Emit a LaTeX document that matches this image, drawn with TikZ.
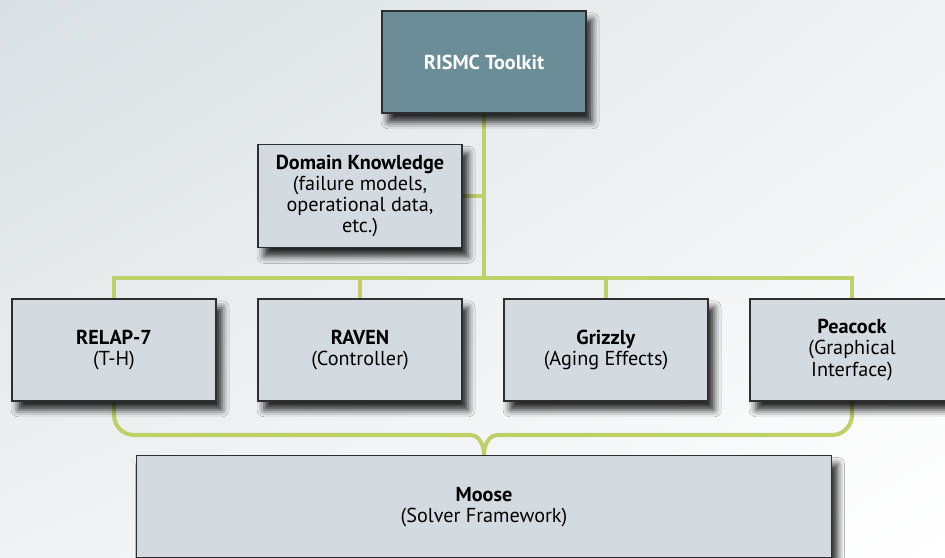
\documentclass[tikz,border=0pt]{standalone}
\usepackage{fontspec}
\setmainfont{PT Sans}
\usepackage{xcolor}
\usepackage{tikz}
\usetikzlibrary{calc,shadings,shadows.blur}
\definecolor{bgA}{HTML}{D9E0E3}
\definecolor{bgB}{HTML}{F0F2F3}
\definecolor{boxfill}{HTML}{D3DBE1}
\definecolor{topfill}{HTML}{6B8D97}
\definecolor{edge}{HTML}{2E2E2E}
\definecolor{lime}{HTML}{BFD068}
\pgfdeclarelayer{backdrop}
\pgfdeclarelayer{lines}
\pgfsetlayers{backdrop,lines,main}
\tikzset{
  box/.style={draw=edge, fill=boxfill, line width=0.8pt, align=center,
    minimum width=204*0.02cm, minimum height=102*0.02cm, inner sep=2pt,
    font=\fontsize{11.5}{12}\selectfont,
    blur shadow={shadow xshift=3.5pt, shadow yshift=-5pt, shadow blur radius=4pt, shadow opacity=85}},
  topbox/.style={box, fill=topfill, text=white, font=\fontsize{11.5}{12}\selectfont\bfseries},
  link/.style={draw=lime, line width=2.3pt},
  brace/.style={link, rounded corners=0.4cm},
}

\begin{document}
\begin{tikzpicture}[x=0.02cm, y=-0.02cm]
  \useasboundingbox (0,0) rectangle (945,557);

  % nodes
  \node[topbox] (toolkit) at (484,62) {RISMC Toolkit};
  \node[box, minimum height=103*0.02cm] (domain) at (360,196)
    {\textbf{Domain Knowledge}\\(failure models,\\operational data,\\etc.)};
  \node[box] (relap) at (114,350) {\textbf{RELAP-7}\\(T-H)};
  \node[box] (raven) at (360,350) {\textbf{RAVEN}\\(Controller)};
  \node[box] (grizzly) at (606,350) {\textbf{Grizzly}\\(Aging Effects)};
  \node[box] (peacock) at (852,350) {\textbf{Peacock}\\(Graphical\\Interface)};
  \coordinate (cusp) at (484,455);
  \node[box, minimum width=695*0.02cm, anchor=north]
    (moose) at (cusp) {\textbf{Moose}\\(Solver Framework)};

  % background
  \begin{pgfonlayer}{backdrop}
    \shade[upper left=bgA, upper right=bgB, lower left=bgB, lower right=white]
      (0,0) rectangle (945,557);
  \end{pgfonlayer}

  % tree lines
  \begin{pgfonlayer}{lines}
    \coordinate (bus) at (484,278);
    \draw[link] (toolkit.south) -- (bus);
    \draw[link] (domain.east) -- (domain.east -| bus);
    \draw[link] (relap.north) |- (bus) -| (peacock.north);
    \draw[link] (raven.north) -- (raven.north |- bus);
    \draw[link] (grizzly.north) -- (grizzly.north |- bus);
    % lower brace
    \coordinate (braceL) at (470,435);
    \coordinate (braceR) at (498,435);
    \draw[brace] (relap.south) |- (braceL);
    \draw[brace] (peacock.south) |- (braceR);
    \draw[link] (braceL) to[out=0, in=90] (moose.north);
    \draw[link] (braceR) to[out=180, in=90] (moose.north);
  \end{pgfonlayer}
\end{tikzpicture}
\end{document}
